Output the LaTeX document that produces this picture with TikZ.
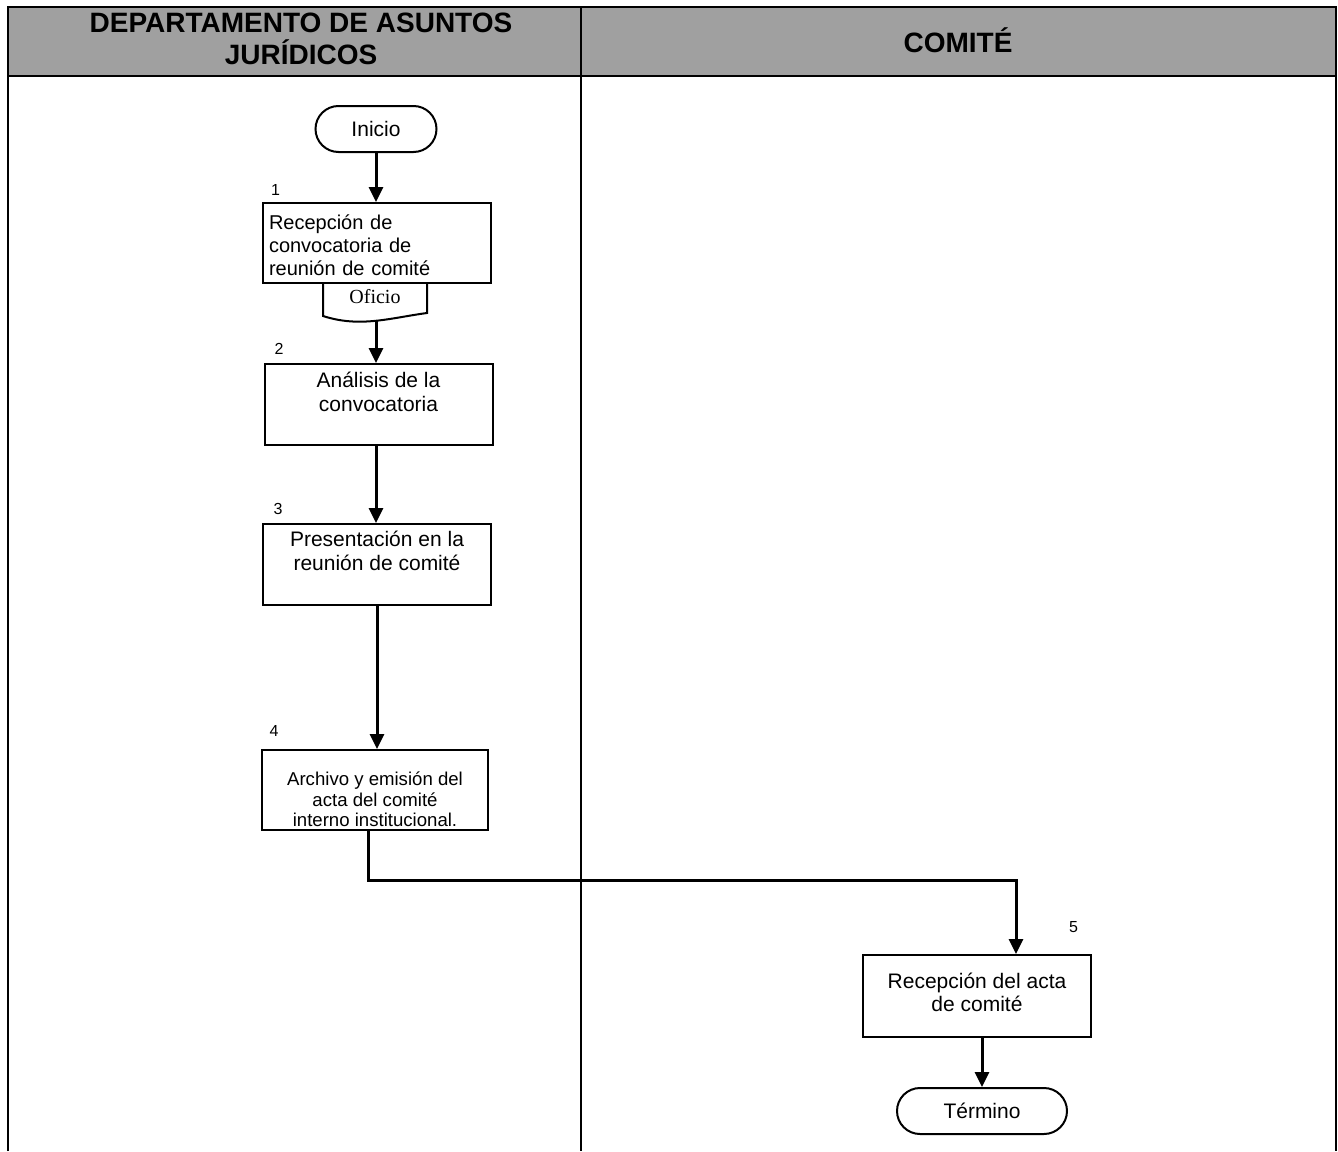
\documentclass[tikz,border=0pt]{standalone}
\usepackage{fontspec}
\setmainfont{Liberation Sans}
\newfontfamily\serifoficio{Liberation Serif}
\usetikzlibrary{arrows.meta,calc}
\definecolor{hdrgray}{HTML}{A0A0A0}
\begin{document}
\begin{tikzpicture}[x=1pt,y=-1pt,
  frame/.style={line width=2.5pt},
  proc/.style={draw, line width=2pt, minimum width=228pt, inner sep=0pt, align=center, font=\fontsize{21}{23.5}\selectfont},
  termbox/.style={draw, line width=2pt, rounded corners=23pt, minimum height=46pt, inner sep=0pt, font=\fontsize{21}{24}\selectfont},
  num/.style={font=\fontsize{16}{18}\selectfont, inner sep=0pt},
  arr/.style={line width=3pt, -{Triangle[length=15pt,width=14pt]}},
  hdr/.style={font=\bfseries\fontsize{28}{32}\selectfont, align=center, inner sep=0pt},
  docline/.style={line width=2pt}
]
\useasboundingbox (0,0) rectangle (1338,1151);
% header band and frame
\fill[hdrgray] (8,7) rectangle (1336,76);
\draw[frame] (8,1151) -- (8,7) -- (1336,7) -- (1336,1151);
\draw[frame] (8,76) -- (1336,76);
\draw[frame] (581,7) -- (581,1151);
\node[hdr] (hL) at (301,39) {DEPARTAMENTO DE ASUNTOS\\JURÍDICOS};
\node[hdr, anchor=base] (hR) at (958,52) {COMITÉ};

% nodes
\node[termbox, minimum width=121pt] (start) at (376,129) {Inicio};
\node[proc, minimum height=80pt, text width=216pt, inner xsep=6pt, align=left, font=\fontsize{20}{23}\selectfont] (b1) at (377,243)
  {\rule{0pt}{20pt}Recepción de\\convocatoria de\\reunión de comité};
\node[font=\serifoficio\fontsize{20}{22}\selectfont, inner sep=0pt, anchor=base] (of) at (375,303) {Oficio};
\draw[docline] (323,283) -- (323,316) .. controls (360,328) and (390,318) .. (427,313) -- (427,283);
\coordinate (ofb) at (376,321);
\node[proc, minimum height=81pt] (b2) at (378.5,404.5)
  {Análisis de la\\convocatoria\rule[-25.5pt]{0pt}{0pt}};
\node[proc, minimum height=81pt] (b3) at (377,564.5)
  {Presentación en la\\reunión de comité\rule[-27.4pt]{0pt}{0pt}};
\node[proc, minimum height=80pt, minimum width=226pt, font=\fontsize{18.6}{20.5}\selectfont] (b4) at (375,790)
  {\rule{0pt}{33pt}Archivo y emisión del\\acta del comité\\interno institucional.};
\node[proc, minimum height=82pt] (b5) at (977,996)
  {Recepción del acta\\de comité\rule[-7.4pt]{0pt}{0pt}};
\node[termbox, minimum width=170pt] (term) at (982,1111) {Término};

% step numbers
\node[num] (n1) at (275.5,190) {1};
\node[num] (n2) at (279,349) {2};
\node[num] (n3) at (278,509) {3};
\node[num] (n4) at (274,731) {4};
\node[num] (n5) at (1073.5,927.5) {5};

% connectors
\draw[arr] (start.south) -- (start.south |- b1.north);
\draw[arr] (ofb) -- (ofb |- b2.north);
\draw[arr] (b2.south -| ofb) -- (ofb |- b3.north);
\draw[arr] (b3.south) -- (b3.south |- b4.north);
\draw[arr] ([xshift=-7pt]b4.south) -- ++(0,49) -| ([xshift=39pt]b5.north);
\draw[arr] (b5.south -| term.north) -- (term.north);
\end{tikzpicture}
\end{document}
